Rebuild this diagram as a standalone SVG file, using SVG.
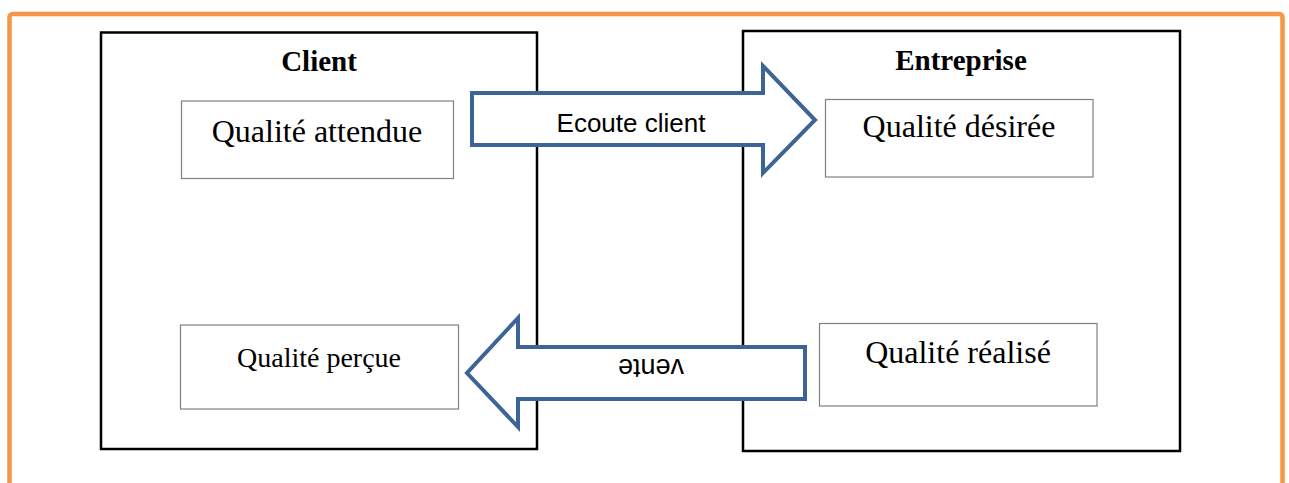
<svg xmlns="http://www.w3.org/2000/svg" width="1289" height="483" viewBox="0 0 1289 483">
<style>
.frame{fill:none;stroke:#F79646;stroke-width:4.5}
.big{fill:#fff;stroke:#000;stroke-width:2.5}
.inner{fill:#fff;stroke:#808080;stroke-width:1.2}
.title{font-family:"Liberation Serif",serif;font-weight:bold;font-size:29px;fill:#000;text-anchor:middle}
.lbl{font-family:"Liberation Serif",serif;font-size:32px;fill:#000;text-anchor:middle}
.arrow{fill:#fff;stroke:#3C6496;stroke-width:4;stroke-linejoin:miter}
.alabel{font-family:"Liberation Sans",sans-serif;font-size:26px;fill:#000;text-anchor:middle}
</style>
<rect width="1289" height="483" fill="#fff"/>
<rect class="frame" x="9.5" y="14" width="1273" height="520" rx="3"/>
<g id="client">
<rect class="big" x="101" y="32.5" width="436" height="416.5"/>
<text class="title" x="319" y="71">Client</text>
</g>
<g id="entreprise">
<rect class="big" x="743" y="31" width="437" height="420"/>
<text class="title" x="961" y="70">Entreprise</text>
</g>
<g id="qualite-attendue">
<rect class="inner" x="181.5" y="101" width="272" height="77.5"/>
<text class="lbl" x="317" y="142">Qualité attendue</text>
</g>
<g id="qualite-desiree">
<rect class="inner" x="825.5" y="99.5" width="267.5" height="77.5"/>
<text class="lbl" x="959" y="137">Qualité désirée</text>
</g>
<g id="qualite-percue">
<rect class="inner" x="180.5" y="325" width="278" height="84"/>
<text class="lbl" x="319" y="367" style="font-size:28px">Qualité perçue</text>
</g>
<g id="qualite-realise">
<rect class="inner" x="819.5" y="323.5" width="277.5" height="82.5"/>
<text class="lbl" x="958" y="363">Qualité réalisé</text>
</g>
<g id="connectors">
<g id="ecoute-client">
<path class="arrow" d="M472,93 L763,93 L763,66 L815,120 L763,173 L763,145 L472,145 Z"/>
<text class="alabel" x="631" y="132">Ecoute client</text>
</g>
<g id="vente">
<path class="arrow" d="M805,347 L518,347 L518,318 L467,373 L518,427 L518,399 L805,399 Z"/>
<text class="alabel" x="651" y="371" transform="rotate(180 651 365)" style="font-size:27px">vente</text>
</g>
</g>
</svg>
